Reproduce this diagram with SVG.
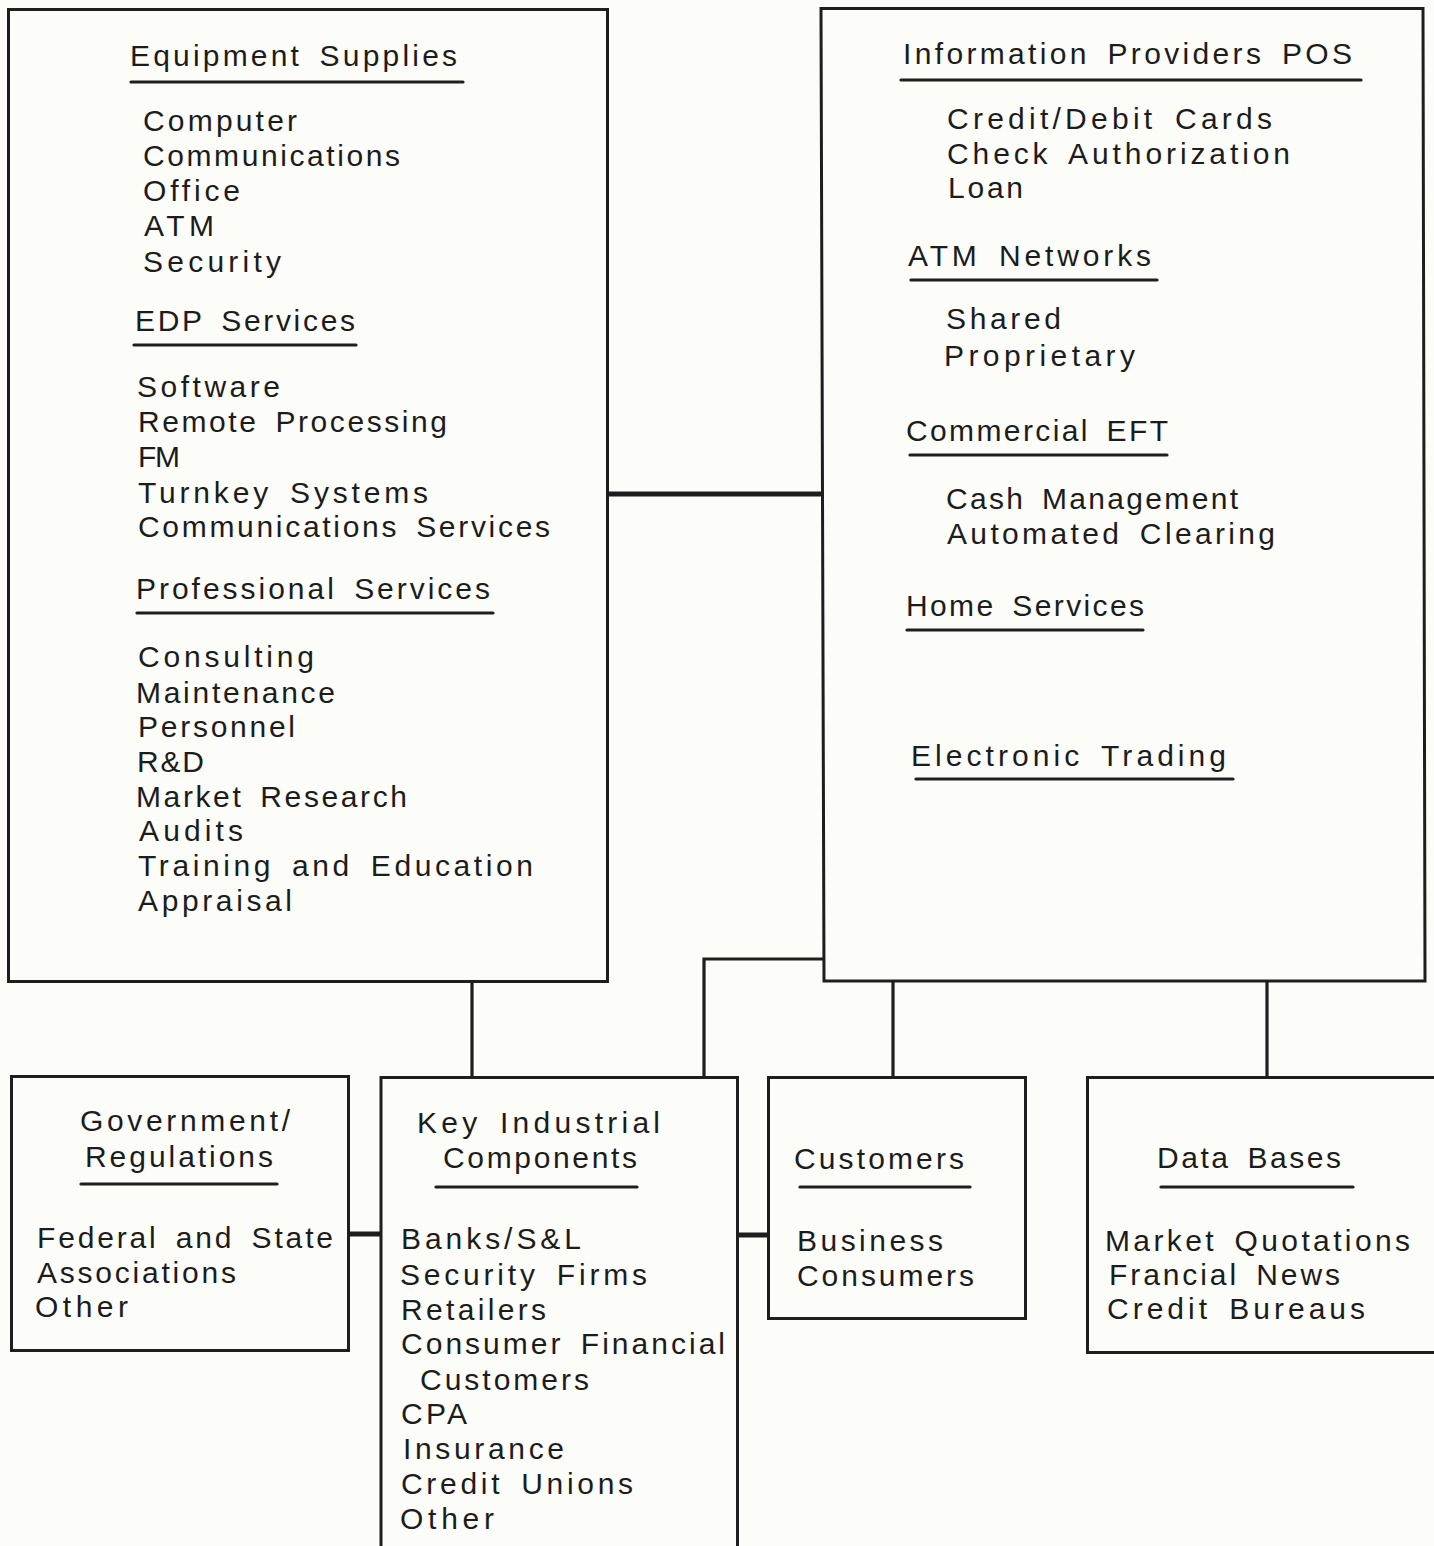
<svg xmlns="http://www.w3.org/2000/svg" width="1434" height="1546" viewBox="0 0 1434 1546">
  <defs>
    <style>
      .box { fill: none; stroke: #1e1e1e; stroke-width: 3; stroke-linejoin: miter; }
      .rule { stroke: #1e1e1e; stroke-width: 3.2; stroke-linecap: round; }
      .link { fill: none; stroke: #1e1e1e; stroke-width: 3.2; }
      .link.heavy { stroke-width: 5; }
      text { font-family: "Liberation Sans", Arial, sans-serif; font-size: 30px; fill: #1c1c1c; word-spacing: 6px; }
    </style>
  </defs>

  <rect x="0" y="0" width="1434" height="1546" fill="#fcfcf8"/>

  <!-- connectors -->
  <g id="connectors">
    <line class="link heavy" x1="608" y1="494" x2="823" y2="494"/>
    <line class="link" x1="472" y1="981" x2="472" y2="1077"/>
    <polyline class="link" points="823,959 704,959 704,1077"/>
    <line class="link" x1="893" y1="981" x2="893" y2="1077"/>
    <line class="link" x1="1267" y1="981" x2="1267" y2="1077"/>
    <line class="link heavy" x1="348" y1="1234" x2="380" y2="1234"/>
    <line class="link heavy" x1="737" y1="1235" x2="768" y2="1235"/>
  </g>

  <!-- suppliers and services -->
  <g id="suppliers">
    <rect class="box" x="8.5" y="9.5" width="599" height="972"/>
    <text x="130" y="66" textLength="327" lengthAdjust="spacing">Equipment Supplies</text>
    <line class="rule" x1="131" y1="82" x2="463" y2="82"/>
    <text x="143" y="131" textLength="154" lengthAdjust="spacing">Computer</text>
    <text x="143" y="166" textLength="257" lengthAdjust="spacing">Communications</text>
    <text x="143" y="201" textLength="97" lengthAdjust="spacing">Office</text>
    <text x="144" y="236" textLength="70" lengthAdjust="spacing">ATM</text>
    <text x="143" y="272" textLength="138" lengthAdjust="spacing">Security</text>

    <text x="135" y="331" textLength="220" lengthAdjust="spacing">EDP Services</text>
    <line class="rule" x1="134" y1="345" x2="356" y2="345"/>
    <text x="137" y="397" textLength="143" lengthAdjust="spacing">Software</text>
    <text x="138" y="432" textLength="309" lengthAdjust="spacing">Remote Processing</text>
    <text x="138" y="467" textLength="42" lengthAdjust="spacing">FM</text>
    <text x="138" y="503" textLength="290" lengthAdjust="spacing">Turnkey Systems</text>
    <text x="138" y="537" textLength="412" lengthAdjust="spacing">Communications Services</text>

    <text x="136" y="599" textLength="354" lengthAdjust="spacing">Professional Services</text>
    <line class="rule" x1="137" y1="613" x2="493" y2="613"/>
    <text x="138" y="667" textLength="176" lengthAdjust="spacing">Consulting</text>
    <text x="136" y="703" textLength="199" lengthAdjust="spacing">Maintenance</text>
    <text x="138" y="737" textLength="157" lengthAdjust="spacing">Personnel</text>
    <text x="137" y="772" textLength="67" lengthAdjust="spacing">R&amp;D</text>
    <text x="136" y="807" textLength="271" lengthAdjust="spacing">Market Research</text>
    <text x="139" y="841" textLength="104" lengthAdjust="spacing">Audits</text>
    <text x="138" y="876" textLength="395" lengthAdjust="spacing">Training and Education</text>
    <text x="138" y="911" textLength="154" lengthAdjust="spacing">Appraisal</text>
  </g>

  <!-- information providers -->
  <g id="providers">
    <path class="box" d="M821,8.5 L1423,8.5 L1425,981 L824,981 Z"/>
    <text x="903" y="64" textLength="449" lengthAdjust="spacing">Information Providers POS</text>
    <line class="rule" x1="901" y1="80" x2="1361" y2="80"/>
    <text x="947" y="129" textLength="325" lengthAdjust="spacing">Credit/Debit Cards</text>
    <text x="947" y="164" textLength="343" lengthAdjust="spacing">Check Authorization</text>
    <text x="948" y="198" textLength="75" lengthAdjust="spacing">Loan</text>

    <text x="908" y="266" textLength="243" lengthAdjust="spacing">ATM Networks</text>
    <line class="rule" x1="911" y1="280" x2="1157" y2="280"/>
    <text x="946" y="329" textLength="115" lengthAdjust="spacing">Shared</text>
    <text x="944" y="366" textLength="191" lengthAdjust="spacing">Proprietary</text>

    <text x="906" y="441" textLength="262" lengthAdjust="spacing">Commercial EFT</text>
    <line class="rule" x1="910" y1="455" x2="1167" y2="455"/>
    <text x="946" y="509" textLength="292" lengthAdjust="spacing">Cash Management</text>
    <text x="947" y="544" textLength="328" lengthAdjust="spacing">Automated Clearing</text>

    <text x="906" y="616" textLength="238" lengthAdjust="spacing">Home Services</text>
    <line class="rule" x1="907" y1="630" x2="1143" y2="630"/>

    <text x="911" y="766" textLength="315" lengthAdjust="spacing">Electronic Trading</text>
    <line class="rule" x1="916" y1="779" x2="1233" y2="779"/>
  </g>

  <!-- government / regulations -->
  <g id="government">
    <rect class="box" x="11.5" y="1076.5" width="337" height="274"/>
    <text x="80" y="1131" textLength="210" lengthAdjust="spacing">Government/</text>
    <text x="85" y="1167" textLength="188" lengthAdjust="spacing">Regulations</text>
    <line class="rule" x1="81" y1="1184" x2="277" y2="1184"/>
    <text x="37" y="1248" textLength="296" lengthAdjust="spacing">Federal and State</text>
    <text x="37" y="1283" textLength="199" lengthAdjust="spacing">Associations</text>
    <text x="35" y="1317" textLength="93" lengthAdjust="spacing">Other</text>
  </g>

  <!-- key industrial components -->
  <g id="industrial">
    <path class="box" d="M381,1560 L381,1077.5 L737.5,1077.5 L737.5,1560"/>
    <text x="417" y="1133" textLength="243" lengthAdjust="spacing">Key Industrial</text>
    <text x="443" y="1168" textLength="194" lengthAdjust="spacing">Components</text>
    <line class="rule" x1="436" y1="1187" x2="637" y2="1187"/>
    <text x="401" y="1249" textLength="180" lengthAdjust="spacing">Banks/S&amp;L</text>
    <text x="400" y="1285" textLength="247" lengthAdjust="spacing">Security Firms</text>
    <text x="401" y="1320" textLength="145" lengthAdjust="spacing">Retailers</text>
    <text x="401" y="1354" textLength="324" lengthAdjust="spacing">Consumer Financial</text>
    <text x="420" y="1390" textLength="169" lengthAdjust="spacing">Customers</text>
    <text x="401" y="1424" textLength="66" lengthAdjust="spacing">CPA</text>
    <text x="403" y="1459" textLength="161" lengthAdjust="spacing">Insurance</text>
    <text x="401" y="1494" textLength="232" lengthAdjust="spacing">Credit Unions</text>
    <text x="400" y="1529" textLength="94" lengthAdjust="spacing">Other</text>
  </g>

  <!-- customers -->
  <g id="customers">
    <rect class="box" x="768.5" y="1077.5" width="257" height="241"/>
    <text x="794" y="1169" textLength="170" lengthAdjust="spacing">Customers</text>
    <line class="rule" x1="800" y1="1187" x2="970" y2="1187"/>
    <text x="797" y="1251" textLength="146" lengthAdjust="spacing">Business</text>
    <text x="797" y="1286" textLength="177" lengthAdjust="spacing">Consumers</text>
  </g>

  <!-- data bases -->
  <g id="databases">
    <path class="box" d="M1450,1077.5 L1087.5,1077.5 L1087.5,1352.5 L1450,1352.5"/>
    <text x="1157" y="1168" textLength="184" lengthAdjust="spacing">Data Bases</text>
    <line class="rule" x1="1161" y1="1187" x2="1353" y2="1187"/>
    <text x="1105" y="1251" textLength="305" lengthAdjust="spacing">Market Quotations</text>
    <text x="1109" y="1285" textLength="231" lengthAdjust="spacing">Francial News</text>
    <text x="1107" y="1319" textLength="258" lengthAdjust="spacing">Credit Bureaus</text>
  </g>
</svg>
